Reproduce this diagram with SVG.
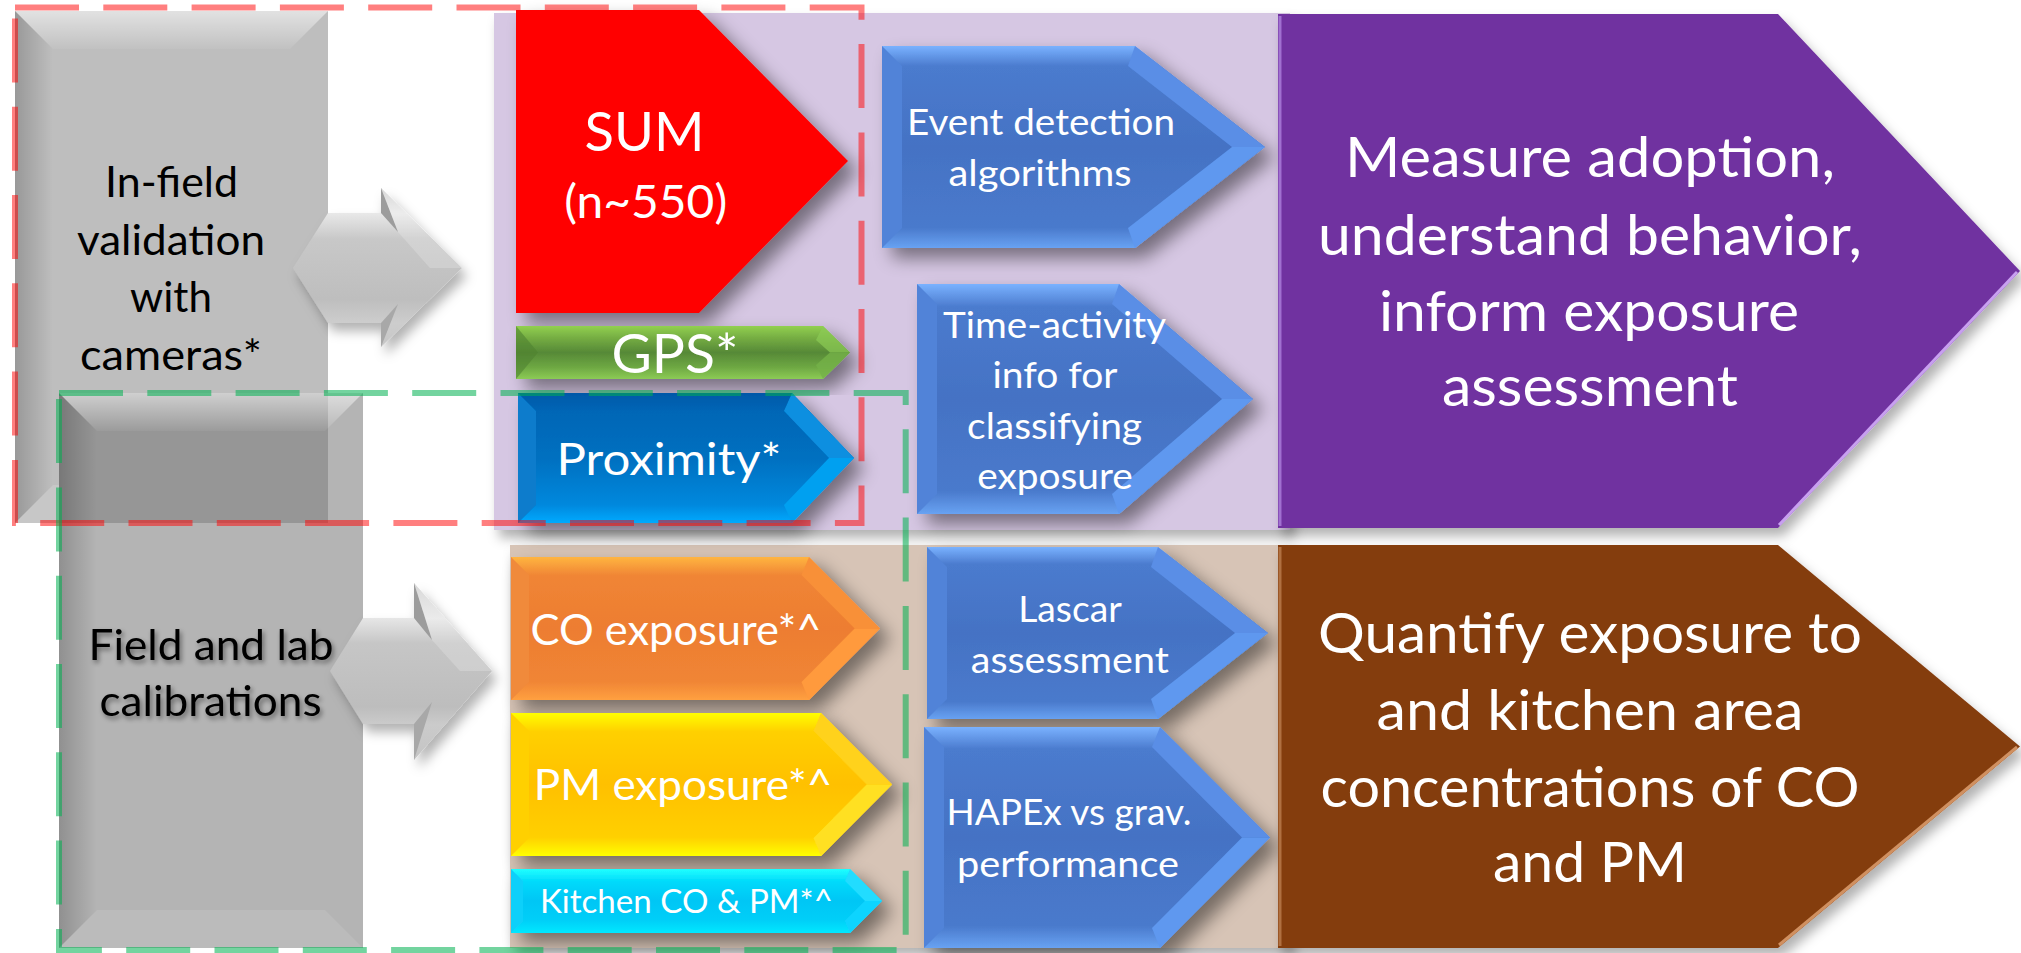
<svg xmlns="http://www.w3.org/2000/svg" width="2021" height="953" viewBox="0 0 2021 953">
<style>
.t{font-family:Lato,'Open Sans','Liberation Sans',sans-serif;text-anchor:middle}
.w{fill:#fff}
.k{fill:#000}
.dash{fill:none;stroke-width:6;stroke-dasharray:64 24.3}
.bL{fill:#5183D8}.bU{fill:#5A8EE6}.bR{fill:#5E98EF}
</style>
<defs>
<filter id="ds" x="-20%" y="-20%" width="150%" height="150%"><feDropShadow dx="10" dy="10" stdDeviation="9" flood-color="#000" flood-opacity="0.45"/></filter>
<filter id="ds2" x="-10%" y="-10%" width="125%" height="130%"><feDropShadow dx="5" dy="8" stdDeviation="6" flood-color="#000" flood-opacity="0.3"/></filter>
<filter id="ts" x="-10%" y="-20%" width="130%" height="160%"><feDropShadow dx="2" dy="3" stdDeviation="2.5" flood-color="#000" flood-opacity="0.45"/></filter>
<linearGradient id="gBlue" x1="0" y1="0" x2="0" y2="1"><stop offset="0" stop-color="#7AB2FF"/><stop offset=".1" stop-color="#4B7BCE"/><stop offset=".5" stop-color="#4472C4"/><stop offset=".9" stop-color="#4A7ACC"/><stop offset="1" stop-color="#68A2F2"/></linearGradient>
<linearGradient id="gProx" x1="0" y1="0" x2="0" y2="1"><stop offset="0" stop-color="#0058A8"/><stop offset=".14" stop-color="#0066B6"/><stop offset=".5" stop-color="#0070C0"/><stop offset=".86" stop-color="#0088DD"/><stop offset="1" stop-color="#00AAFF"/></linearGradient>
<linearGradient id="gOr" x1="0" y1="0" x2="0" y2="1"><stop offset="0" stop-color="#FFB540"/><stop offset=".13" stop-color="#F08535"/><stop offset=".5" stop-color="#ED7D31"/><stop offset=".87" stop-color="#F08535"/><stop offset="1" stop-color="#FFA040"/></linearGradient>
<linearGradient id="gYe" x1="0" y1="0" x2="0" y2="1"><stop offset="0" stop-color="#FFFF00"/><stop offset=".13" stop-color="#FFD000"/><stop offset=".5" stop-color="#FFC000"/><stop offset=".87" stop-color="#FFD000"/><stop offset="1" stop-color="#FFFF00"/></linearGradient>
<linearGradient id="gCy" x1="0" y1="0" x2="0" y2="1"><stop offset="0" stop-color="#20FFFF"/><stop offset=".2" stop-color="#00DAFB"/><stop offset=".5" stop-color="#00C6F5"/><stop offset=".8" stop-color="#00CFF8"/><stop offset="1" stop-color="#00E8FF"/></linearGradient>
<linearGradient id="gGr" x1="0" y1="0" x2="0" y2="1"><stop offset="0" stop-color="#92D050"/><stop offset=".22" stop-color="#76AE43"/><stop offset=".5" stop-color="#568937"/><stop offset=".78" stop-color="#6EA843"/><stop offset="1" stop-color="#8CCB55"/></linearGradient>
<linearGradient id="gWTop" x1="0" y1="0" x2="0" y2="1"><stop offset="0" stop-color="#fff" stop-opacity=".55"/><stop offset="1" stop-color="#fff" stop-opacity=".05"/></linearGradient>
<linearGradient id="gKLeft" x1="0" y1="0" x2="1" y2="0"><stop offset="0" stop-color="#000" stop-opacity=".2"/><stop offset="1" stop-color="#000" stop-opacity="0"/></linearGradient>
<linearGradient id="gArr1" x1="0" y1="0" x2="0" y2="1"><stop offset="0" stop-color="#CFCFCF"/><stop offset=".16" stop-color="#E8E8E8"/><stop offset=".32" stop-color="#C8C8C8"/><stop offset=".7" stop-color="#BEBEBE"/><stop offset=".85" stop-color="#CDCDCD"/><stop offset="1" stop-color="#C6C6C6"/></linearGradient>
<linearGradient id="gArr2" x1="0" y1="0" x2="0" y2="1"><stop offset="0" stop-color="#CFCFCF"/><stop offset=".2" stop-color="#E6E6E6"/><stop offset=".34" stop-color="#C6C6C6"/><stop offset=".7" stop-color="#BDBDBD"/><stop offset=".8" stop-color="#CBCBCB"/><stop offset="1" stop-color="#C4C4C4"/></linearGradient>
</defs>

<g id="bg-sensors">
<rect x="494" y="13" width="796" height="517" fill="#D6C7E3" filter="url(#ds2)"/>
</g>
<g id="bg-exposure">
<rect x="510" y="545" width="780" height="403" fill="#D7C4B6" filter="url(#ds2)"/>
</g>

<g id="n-infield">
<rect x="15" y="11" width="313" height="512" fill="#BEBEBE"/>
<polygon points="15,11 328,11 290,49 53,49" fill="url(#gWTop)"/>
<polygon points="15,11 53,49 53,485 15,523" fill="url(#gKLeft)"/>
<polygon points="15,523 53,485 290,485 328,523" fill="#fff" fill-opacity=".15"/>
<text class="t k" font-size="43" x="171.5" y="197.3" textLength="133" lengthAdjust="spacingAndGlyphs">In-field</text>
<text class="t k" font-size="43" x="171" y="254.8" textLength="188" lengthAdjust="spacingAndGlyphs">validation</text>
<text class="t k" font-size="43" x="171" y="311.6" textLength="82" lengthAdjust="spacingAndGlyphs">with</text>
<text class="t k" font-size="43" x="171" y="370" textLength="182" lengthAdjust="spacingAndGlyphs">cameras*</text>
</g>

<g id="n-calib">
<rect x="59" y="393" width="304" height="555" fill="#B4B4B4"/>
<rect x="59" y="393" width="269" height="130" fill="#969696"/>
<polygon points="59,393 363,393 325,431 97,431" fill="url(#gWTop)"/>
<polygon points="59,393 97,431 97,910 59,948" fill="url(#gKLeft)"/>
<polygon points="59,948 97,910 325,910 363,948" fill="#fff" fill-opacity=".1"/>
</g>

<g id="connectors">
<g id="arrow-infield" filter="url(#ds2)">
<polygon points="293,268 328,213 381,213 381,188 462,268 381,347 381,323 328,323" fill="url(#gArr1)"/>
<polygon points="381,188 381,213 398,232" fill="#9C9C9C"/>
<polygon points="381,347 381,323 398,304" fill="#A8A8A8"/>
<polygon points="398,232 381,188 462,268 430,268" fill="#fff" fill-opacity=".2"/>
</g>
<g id="arrow-calib" filter="url(#ds2)">
<polygon points="330,671 363,618 414,618 414,583 492,671 414,760 414,724 363,724" fill="url(#gArr2)"/>
<polygon points="414,583 414,618 432,640" fill="#9C9C9C"/>
<polygon points="414,760 414,724 432,702" fill="#A8A8A8"/>
<polygon points="432,640 414,583 492,671 460,671" fill="#fff" fill-opacity=".2"/>
</g>
</g>

<g id="n-calib-label" filter="url(#ts)">
<text class="t k" font-size="43" x="211" y="659.6" textLength="245" lengthAdjust="spacingAndGlyphs">Field and lab</text>
<text class="t k" font-size="43" x="210.5" y="715.5" textLength="222" lengthAdjust="spacingAndGlyphs">calibrations</text>
</g>

<g id="n-sum">
<polygon points="516,10 699,10 848,161 699,313 516,313" fill="#FF0000" filter="url(#ds)"/>
<text class="t w" font-size="54" x="644.5" y="151" textLength="120" lengthAdjust="spacingAndGlyphs">SUM</text>
<text class="t w" font-size="47" x="645.7" y="217.6" textLength="163" lengthAdjust="spacingAndGlyphs">(n~550)</text>
</g>

<g id="n-gps">
<g filter="url(#ds)">
<polygon points="516,326 823,326 850,352.5 823,379 516,379" fill="url(#gGr)"/>
<polygon points="516,326 538,352.5 516,379" fill="#4E8230" fill-opacity=".6"/>
<polygon points="823,326 850,352.5 830,352.5 816,340" fill="#8CCB55" fill-opacity=".7"/>
<polygon points="850,352.5 823,379 816,365 830,352.5" fill="#74B247" fill-opacity=".8"/>
</g>
<text class="t w" font-size="54" x="675" y="373" textLength="127" lengthAdjust="spacingAndGlyphs">GPS*</text>
</g>

<g id="n-proximity">
<g filter="url(#ds)">
<polygon points="518,393 792,393 854,458 792,523 518,523" fill="url(#gProx)"/>
<polygon points="518,393 536,411 536,505 518,523" fill="#0A7CCC"/>
<polygon points="792,393 854,458 829,458 784,411" fill="#0A8FE0"/>
<polygon points="854,458 792,523 784,505 829,458" fill="#00A0F0"/>
</g>
<text class="t w" font-size="45" x="669" y="475" textLength="225" lengthAdjust="spacingAndGlyphs">Proximity*</text>
</g>

<g id="n-event">
<g filter="url(#ds)">
<polygon points="882,46 1135,46 1265,147 1135,248 882,248" fill="url(#gBlue)"/>
<polygon class="bL" points="882,46 902,66 902,228 882,248"/>
<polygon class="bU" points="1135,46 1265,147 1232,147 1128,66"/>
<polygon class="bR" points="1265,147 1135,248 1128,228 1232,147"/>
</g>
<text class="t w" font-size="37.5" x="1041" y="135" textLength="268" lengthAdjust="spacingAndGlyphs">Event detection</text>
<text class="t w" font-size="37.5" x="1040" y="185.7" textLength="183" lengthAdjust="spacingAndGlyphs">algorithms</text>
</g>

<g id="n-timeactivity">
<g filter="url(#ds)">
<polygon points="917,284 1119,284 1253,399 1119,514 917,514" fill="url(#gBlue)"/>
<polygon class="bL" points="917,284 937,304 937,494 917,514"/>
<polygon class="bU" points="1119,284 1253,399 1222,399 1112,304"/>
<polygon class="bR" points="1253,399 1119,514 1112,494 1222,399"/>
</g>
<text class="t w" font-size="37.5" x="1054.6" y="337.5" textLength="223" lengthAdjust="spacingAndGlyphs">Time-activity</text>
<text class="t w" font-size="37.5" x="1055" y="388.4" textLength="125" lengthAdjust="spacingAndGlyphs">info for</text>
<text class="t w" font-size="37.5" x="1054.6" y="439" textLength="175" lengthAdjust="spacingAndGlyphs">classifying</text>
<text class="t w" font-size="37.5" x="1055" y="489" textLength="155.6" lengthAdjust="spacingAndGlyphs">exposure</text>
</g>

<g id="n-co">
<g filter="url(#ds)">
<polygon points="511,557 809,557 880,628.5 809,700 511,700" fill="url(#gOr)"/>
<polygon points="511,557 529,575 529,682 511,700" fill="#F08A3A"/>
<polygon points="809,557 880,628.5 854.6,628.5 801.5,575" fill="#F89038"/>
<polygon points="880,628.5 809,700 801.5,682 854.6,628.5" fill="#FF9A3C"/>
</g>
<text class="t w" font-size="42.5" x="676" y="645" textLength="291" lengthAdjust="spacingAndGlyphs">CO exposure*^</text>
</g>

<g id="n-pm">
<g filter="url(#ds)">
<polygon points="511,713 821,713 892,784.5 821,856 511,856" fill="url(#gYe)"/>
<polygon points="511,713 529,731 529,838 511,856" fill="#FFD000"/>
<polygon points="821,713 892,784.5 866.6,784.5 813.5,731" fill="#FFD21A"/>
<polygon points="892,784.5 821,856 813.5,838 866.6,784.5" fill="#FFE020"/>
</g>
<text class="t w" font-size="42.5" x="683" y="800" textLength="298.5" lengthAdjust="spacingAndGlyphs">PM exposure*^</text>
</g>

<g id="n-kitchen">
<g filter="url(#ds)">
<polygon points="511,869 850,869 882,901 850,933 511,933" fill="url(#gCy)"/>
<polygon points="511,869 523,881 523,921 511,933" fill="#10D0FA"/>
<polygon points="850,869 882,901 865,901 845,881" fill="#20DCFF"/>
<polygon points="882,901 850,933 845,921 865,901" fill="#10D4FF"/>
</g>
<text class="t w" font-size="33" x="686.4" y="913.3" textLength="293" lengthAdjust="spacingAndGlyphs">Kitchen CO &amp; PM*^</text>
</g>

<g id="n-lascar">
<g filter="url(#ds)">
<polygon points="927,547 1158,547 1268,633 1158,719 927,719" fill="url(#gBlue)"/>
<polygon class="bL" points="927,547 947,567 947,699 927,719"/>
<polygon class="bU" points="1158,547 1268,633 1235,633 1151,567"/>
<polygon class="bR" points="1268,633 1158,719 1151,699 1235,633"/>
</g>
<text class="t w" font-size="37.5" x="1070" y="621.7" textLength="103.6" lengthAdjust="spacingAndGlyphs">Lascar</text>
<text class="t w" font-size="37.5" x="1069.8" y="672.7" textLength="198" lengthAdjust="spacingAndGlyphs">assessment</text>
</g>

<g id="n-hapex">
<g filter="url(#ds)">
<polygon points="924,727 1160,727 1270,837.5 1160,948 924,948" fill="url(#gBlue)"/>
<polygon class="bL" points="924,727 944,747 944,928 924,948"/>
<polygon class="bU" points="1160,727 1270,837.5 1242,837.5 1152,747"/>
<polygon class="bR" points="1270,837.5 1160,948 1152,928 1242,837.5"/>
</g>
<text class="t w" font-size="37.5" x="1069" y="825" textLength="245" lengthAdjust="spacingAndGlyphs">HAPEx vs grav.</text>
<text class="t w" font-size="37.5" x="1068" y="876.7" textLength="222" lengthAdjust="spacingAndGlyphs">performance</text>
</g>

<g id="n-measure">
<g filter="url(#ds2)">
<polygon points="1278,14 1778,14 2020,271 1778,528 1278,528" fill="#7030A0"/>
<polyline points="1280,16 1280,526" fill="none" stroke="#A070D0" stroke-width="3"/>
<polyline points="1779,525 2017,272" fill="none" stroke="#C8A0F0" stroke-width="3"/>
</g>
<text class="t w" font-size="56" x="1590" y="177.3" textLength="490" lengthAdjust="spacingAndGlyphs">Measure adoption,</text>
<text class="t w" font-size="56" x="1590" y="254.8" textLength="544" lengthAdjust="spacingAndGlyphs">understand behavior,</text>
<text class="t w" font-size="56" x="1589" y="330.6" textLength="420" lengthAdjust="spacingAndGlyphs">inform exposure</text>
<text class="t w" font-size="56" x="1590" y="406.3" textLength="296" lengthAdjust="spacingAndGlyphs">assessment</text>
</g>

<g id="n-quantify">
<g filter="url(#ds2)">
<polygon points="1278,545 1778,545 2020,746.5 1778,948 1278,948" fill="#843C0C"/>
<polyline points="1280,547 1280,946" fill="none" stroke="#B07040" stroke-width="3"/>
<polyline points="1779,945 2017,747" fill="none" stroke="#D09060" stroke-width="3"/>
</g>
<text class="t w" font-size="56" x="1590" y="653.3" textLength="544" lengthAdjust="spacingAndGlyphs">Quantify exposure to</text>
<text class="t w" font-size="56" x="1590" y="730" textLength="427" lengthAdjust="spacingAndGlyphs">and kitchen area</text>
<text class="t w" font-size="56" x="1590" y="806.7" textLength="539" lengthAdjust="spacingAndGlyphs">concentrations of CO</text>
<text class="t w" font-size="56" x="1590" y="881.7" textLength="194" lengthAdjust="spacingAndGlyphs">and PM</text>
</g>

<g id="group-red">
<rect class="dash" x="15" y="7.6" width="846.5" height="515.4" stroke="#FF0000" stroke-opacity="0.5"/>
</g>
<g id="group-green">
<rect class="dash" x="59" y="393" width="846.7" height="557" stroke="#00B050" stroke-opacity="0.55"/>
</g>
</svg>
